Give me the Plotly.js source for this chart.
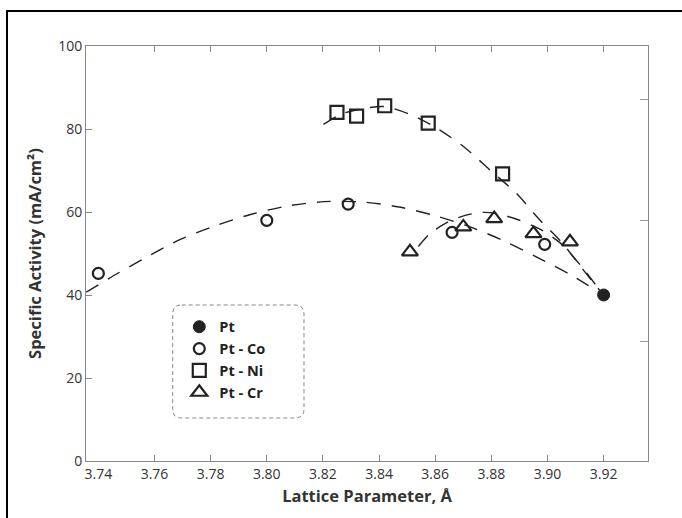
<!DOCTYPE html>
<html><head><meta charset="utf-8">
<script src="https://cdn.plot.ly/plotly-3.0.1.min.js"></script>
<style>
html,body{margin:0;padding:0;background:#fff;overflow:hidden;}
#wrap{position:relative;width:682px;height:518px;}
#chart{position:absolute;left:0;top:0;width:682px;height:518px;}
#frame{position:absolute;left:6px;top:10px;width:700px;height:540px;border-left:2px solid #000;border-top:2px solid #000;pointer-events:none;}
</style></head>
<body><div id="wrap"><div id="chart"></div><div id="frame"></div></div>
<script>
// ---- data ----
const seriesNames = ["Pt", "Pt - Co", "Pt - Ni", "Pt - Cr"];
const ptX = [3.920];
const ptY = [40.0];
const coX = [3.740, 3.800, 3.829, 3.866, 3.899];
const coY = [45.2, 58.0, 61.9, 55.1, 52.2];
const niX = [3.825, 3.832, 3.842, 3.8575, 3.884];
const niY = [84.0, 83.1, 85.6, 81.4, 69.2];
const crX = [3.851, 3.870, 3.881, 3.895, 3.908];
const crY = [50.4, 56.4, 58.4, 54.8, 52.8];
// dashed guide curves
const coFitX = [3.7357, 3.7471, 3.7585, 3.7692, 3.7817, 3.7942, 3.8070, 3.8205, 3.8344, 3.8472, 3.8600, 3.8725, 3.8843, 3.8960, 3.9082, 3.9199];
const coFitY = [40.7, 45.3, 49.6, 53.4, 56.7, 59.4, 61.4, 62.5, 62.4, 61.2, 59.1, 56.4, 53.1, 49.2, 44.9, 40.0];
const niFitX = [3.8202, 3.8262, 3.8326, 3.8419, 3.8511, 3.8601, 3.8704, 3.8797, 3.8889, 3.8971, 3.9053, 3.9128, 3.9199];
const niFitY = [81.1, 83.5, 84.7, 85.4, 83.5, 80.4, 75.6, 70.0, 64.5, 58.2, 52.5, 46.0, 40.0];
const crFitX = [3.8540, 3.8583, 3.8643, 3.8707, 3.8768, 3.8814, 3.8893, 3.8975, 3.9046, 3.9117, 3.9199];
const crFitY = [51.7, 54.9, 57.5, 59.2, 59.9, 59.7, 58.2, 55.8, 52.5, 47.2, 40.0];
const xTickVals = [3.74, 3.76, 3.78, 3.80, 3.82, 3.84, 3.86, 3.88, 3.90, 3.92];
const xTickText = ["3.74", "3.76", "3.78", "3.80", "3.82", "3.84", "3.86", "3.88", "3.90", "3.92"];
const yTickVals = [0, 20, 40, 60, 80, 100];

const ink = "#222";
const dashStyle = {color: ink, width: 1.4, dash: "14px,11px"};
const FONT = "Open Sans, Noto Sans, sans-serif";

const traces = [
  {x: coFitX, y: coFitY, mode: "lines", line: Object.assign({shape: "spline", smoothing: 0.8}, dashStyle), showlegend: false, hoverinfo: "skip"},
  {x: niFitX, y: niFitY, mode: "lines", line: Object.assign({shape: "spline", smoothing: 0.8}, dashStyle), showlegend: false, hoverinfo: "skip"},
  {x: crFitX, y: crFitY, mode: "lines", line: Object.assign({shape: "spline", smoothing: 0.8}, dashStyle), showlegend: false, hoverinfo: "skip"},
  {x: ptX, y: ptY, name: seriesNames[0], mode: "markers", marker: {symbol: "circle", size: 12, color: ink, line: {color: ink, width: 1}}},
  {x: coX, y: coY, name: seriesNames[1], mode: "markers", marker: {symbol: "circle-open", size: 11, color: ink, line: {color: ink, width: 2.2}}},
  {x: niX, y: niY, name: seriesNames[2], mode: "markers", marker: {symbol: "square-open", size: 13, color: ink, line: {color: ink, width: 2.2}}},
  {x: crX, y: crY, name: seriesNames[3], mode: "markers", marker: {symbol: "triangle-up-open", size: 14, color: ink, line: {color: ink, width: 2.2}}}
];

// rounded dashed legend frame in paper coordinates
function roundRect(x0, y0, x1, y1, rx, ry) {
  return `M ${x0 + rx},${y1} L ${x1 - rx},${y1} Q ${x1},${y1} ${x1},${y1 - ry} L ${x1},${y0 + ry} Q ${x1},${y0} ${x1 - rx},${y0} L ${x0 + rx},${y0} Q ${x0},${y0} ${x0},${y0 + ry} L ${x0},${y1 - ry} Q ${x0},${y1} ${x0 + rx},${y1} Z`;
}

const layout = {
  width: 682, height: 518,
  margin: {l: 86, r: 34, t: 46, b: 57},
  paper_bgcolor: "#fff", plot_bgcolor: "#fff",
  font: {family: FONT, color: "#333", size: 14},
  showlegend: true,
  legend: {x: 0.166, y: 0.362, xanchor: "left", yanchor: "top", bgcolor: "rgba(0,0,0,0)", borderwidth: 0,
           font: {family: FONT, size: 14.5, color: ink, weight: "bold"}, tracegroupgap: 0},
  xaxis: {range: [3.7356, 3.9358], tickvals: xTickVals, ticktext: xTickText, ticks: "", showgrid: false, zeroline: false,
          showline: true, linecolor: "#888", linewidth: 1, mirror: true,
          tickfont: {family: FONT, size: 14, color: "#333"},
          title: {text: "Lattice Parameter, Å", font: {family: FONT, size: 16.5, color: "#333", weight: "bold"}, standoff: 8}},
  xaxis2: {overlaying: "x", matches: "x", range: [3.7356, 3.9358], tickvals: xTickVals.slice(1), ticks: "inside", ticklen: 6, tickcolor: "#888",
           showticklabels: false, showgrid: false, zeroline: false, showline: false, mirror: "ticks", side: "bottom"},
  yaxis: {range: [0, 100], tickvals: yTickVals, ticks: "inside", ticklen: 6, tickcolor: "#888", showgrid: false, zeroline: false,
          showline: true, linecolor: "#888", linewidth: 1, mirror: true,
          tickfont: {family: FONT, size: 14, color: "#333"},
          title: {text: "Specific Activity (mA/cm²)", font: {family: FONT, size: 16.5, color: "#333", weight: "bold"}, standoff: 12}},
  yaxis2: {overlaying: "y", range: [0, 100], side: "right", tickvals: [28.9, 58.0, 87.1], ticks: "inside", ticklen: 8, tickcolor: "#999",
           showticklabels: false, showgrid: false, zeroline: false, showline: false},
  shapes: [
    {type: "path", xref: "paper", yref: "paper", path: roundRect(0.1543, 0.1036, 0.3879, 0.3759, 0.016, 0.022),
     line: {color: "#888", width: 1, dash: "4px,3px"}, fillcolor: "rgba(0,0,0,0)"}
  ]
};

// invisible helper trace so the auxiliary tick axes are drawn
traces.push({x: [3.8], y: [50], xaxis: "x2", yaxis: "y2", mode: "markers", marker: {opacity: 0}, showlegend: false, hoverinfo: "skip"});

Plotly.newPlot("chart", traces, layout, {displayModeBar: false, staticPlot: true});
</script></body></html>
